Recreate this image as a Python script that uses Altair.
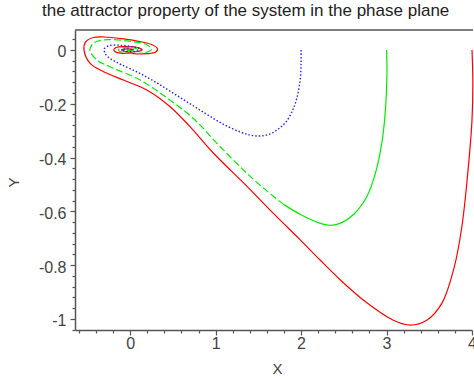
import altair as alt
import pandas as pd

# ---- data (X, Y) ----
red_x = [4.0, 4.01, 4.0, 3.95, 3.88, 3.79, 3.65, 3.47, 3.28, 3.08, 2.77, 2.46, 2.22, 1.99, 1.7, 1.37,
         0.976, 0.70, 0.468, 0.195, -0.078, -0.31, -0.468, -0.54, -0.52, -0.43, -0.3, -0.1, 0.1, 0.25,
         0.32, 0.3, 0.2, 0.0, -0.15, -0.19, -0.17, -0.05, 0.1, 0.14, 0.08, -0.06, -0.1, -0.03, 0.04, 0.0]
red_y = [0.0, -0.12, -0.26, -0.46, -0.66, -0.81, -0.94, -1.005, -1.023, -1.005, -0.94, -0.855, -0.78, -0.706, -0.615, -0.508,
         -0.384, -0.285, -0.211, -0.149, -0.112, -0.081, -0.05, 0.0, 0.03, 0.046, 0.048, 0.042, 0.032, 0.02,
         0.005, -0.008, -0.014, -0.013, -0.01, -0.002, 0.008, 0.012, 0.008, 0.0, -0.006, -0.006, 0.0, 0.004, 0.002, 0.0]

green_x = [3.0, 3.005, 2.99, 2.95, 2.87, 2.77, 2.62, 2.47, 2.35, 2.2, 2.0, 1.8, 1.68, 1.405, 1.054, 0.741, 0.43,
           0.117, -0.195, -0.39, -0.47, -0.42, -0.27, 0.0, 0.19, 0.25, 0.16, -0.08, -0.14, -0.08, 0.06, 0.09,
           0.0, -0.04, 0.0]
green_y = [0.0, -0.09, -0.21, -0.335, -0.458, -0.545, -0.61, -0.643, -0.652, -0.642, -0.613, -0.575, -0.545, -0.47, -0.36, -0.255, -0.178,
           -0.112, -0.068, -0.037, 0.0, 0.027, 0.038, 0.032, 0.02, 0.002, -0.011, -0.01, 0.0, 0.008, 0.006, 0.0,
           -0.003, 0.0, 0.001]
green_solid_until = 11  # the green trace is drawn solid up to this point, dashed after

blue_x = [2.0, 2.0, 1.99, 1.95, 1.9, 1.83, 1.75, 1.64, 1.52, 1.4, 1.29, 1.1, 0.9, 0.7, 0.5, 0.3, 0.1,
          -0.1, -0.22, -0.29, -0.3, -0.24, -0.1, 0.05, 0.13, 0.08, -0.05, -0.09, -0.03, 0.02]
blue_y = [0.0, -0.05, -0.11, -0.18, -0.225, -0.265, -0.29, -0.312, -0.32, -0.316, -0.305, -0.278, -0.24, -0.2, -0.16, -0.12, -0.085,
          -0.055, -0.035, -0.015, 0.005, 0.016, 0.017, 0.01, 0.002, -0.005, -0.005, 0.0, 0.004, 0.0]

x_major = [0, 1, 2, 3, 4]
y_major = [0, -0.2, -0.4, -0.6, -0.8, -1]
x_ticks = [round(-0.6 + 0.2 * k, 1) for k in range(24)]
y_ticks = [round(-1.04 + 0.04 * k, 2) for k in range(28)]

title_text = "the attractor property of the system in the phase plane"

FONT = "Liberation Sans"
AX = "#555555"


def frame(xs, ys):
    return pd.DataFrame({"x": xs, "y": ys, "i": list(range(len(xs)))})


red_df = frame(red_x, red_y)
green_df = frame(green_x, green_y)
green_a = green_df.iloc[: green_solid_until + 1]
green_b = green_df.iloc[green_solid_until:]
blue_df = frame(blue_x, blue_y)

xs = alt.Scale(domain=[-0.645, 4.0], nice=False, zero=False)
ys = alt.Scale(domain=[-1.041, 0.074], nice=False, zero=False)

x_major_test = "abs(datum.value - round(datum.value)) < 0.001"
y_major_test = "abs(datum.value * 5 - round(datum.value * 5)) < 0.001"

x_axis = alt.Axis(
    values=x_ticks, grid=False, labelExpr=f"{x_major_test} ? '' + round(datum.value) : ''",
    tickSize={"condition": {"test": x_major_test, "value": 5}, "value": 3},
    tickColor=AX, tickWidth=1.2, domainColor=AX, domainWidth=1.5,
    labelFont=FONT, labelFontSize=16, labelColor="#444444", labelPadding=0, labelFlush=False,
    labelOverlap=False, title="X", titleFont=FONT, titleFontSize=15, titleFontWeight="normal",
    titleColor="#444444", titleX=202, titleY=43, titleAlign="center", titleBaseline="alphabetic",
)
y_axis = alt.Axis(
    values=y_ticks, grid=False, labelExpr=f"{y_major_test} ? '' + round(datum.value * 10) / 10 : ''",
    tickSize={"condition": {"test": y_major_test, "value": 5}, "value": 3},
    tickColor=AX, tickWidth=1.2, domainColor=AX, domainWidth=1.5,
    labelFont=FONT, labelFontSize=16, labelColor="#444444", labelPadding=4, labelFlush=False,
    labelOffset=2,
    labelOverlap=False, title="Y", titleFont=FONT, titleFontSize=15, titleFontWeight="normal",
    titleColor="#444444", titleX=-57, titleY=152, titleAngle=270, titleAlign="center",
    titleBaseline="alphabetic",
)


def line(df, color, dash=None, width=1.2):
    kw = dict(color=color, strokeWidth=width, interpolate="catmull-rom", clip=False)
    if dash:
        kw["strokeDash"] = dash
    enc = dict(
        x=alt.X("x:Q", scale=xs, axis=x_axis),
        y=alt.Y("y:Q", scale=ys, axis=y_axis),
        order="i:Q",
    )
    return alt.Chart(df).mark_line(**kw).encode(**enc)


top_border = alt.Chart(pd.DataFrame({"a": [0]})).mark_rule(color=AX, strokeWidth=1.5).encode(
    x=alt.value(0), x2=alt.value(398), y=alt.value(0)
)

chart = alt.layer(
    line(red_df, "#ff0000"),
    line(green_a, "#00ee00"),
    line(green_b, "#00ee00", dash=[7, 3]),
    line(blue_df, "#2222ff", dash=[1.5, 2], width=1.4),
    top_border,
).properties(
    width=397,
    height=300,
    padding={"left": 75, "top": 30, "right": 2, "bottom": 48},
    autosize=alt.AutoSizeParams(type="none"),
    title=alt.TitleParams(
        text=title_text, anchor="start", frame="group", dx=-33, offset=9, font=FONT, fontSize=17,
        fontWeight="normal", color="#222222",
    ),
).configure_view(stroke=None)

chart.save("out.html", embed_options={"renderer": "svg", "actions": False})
